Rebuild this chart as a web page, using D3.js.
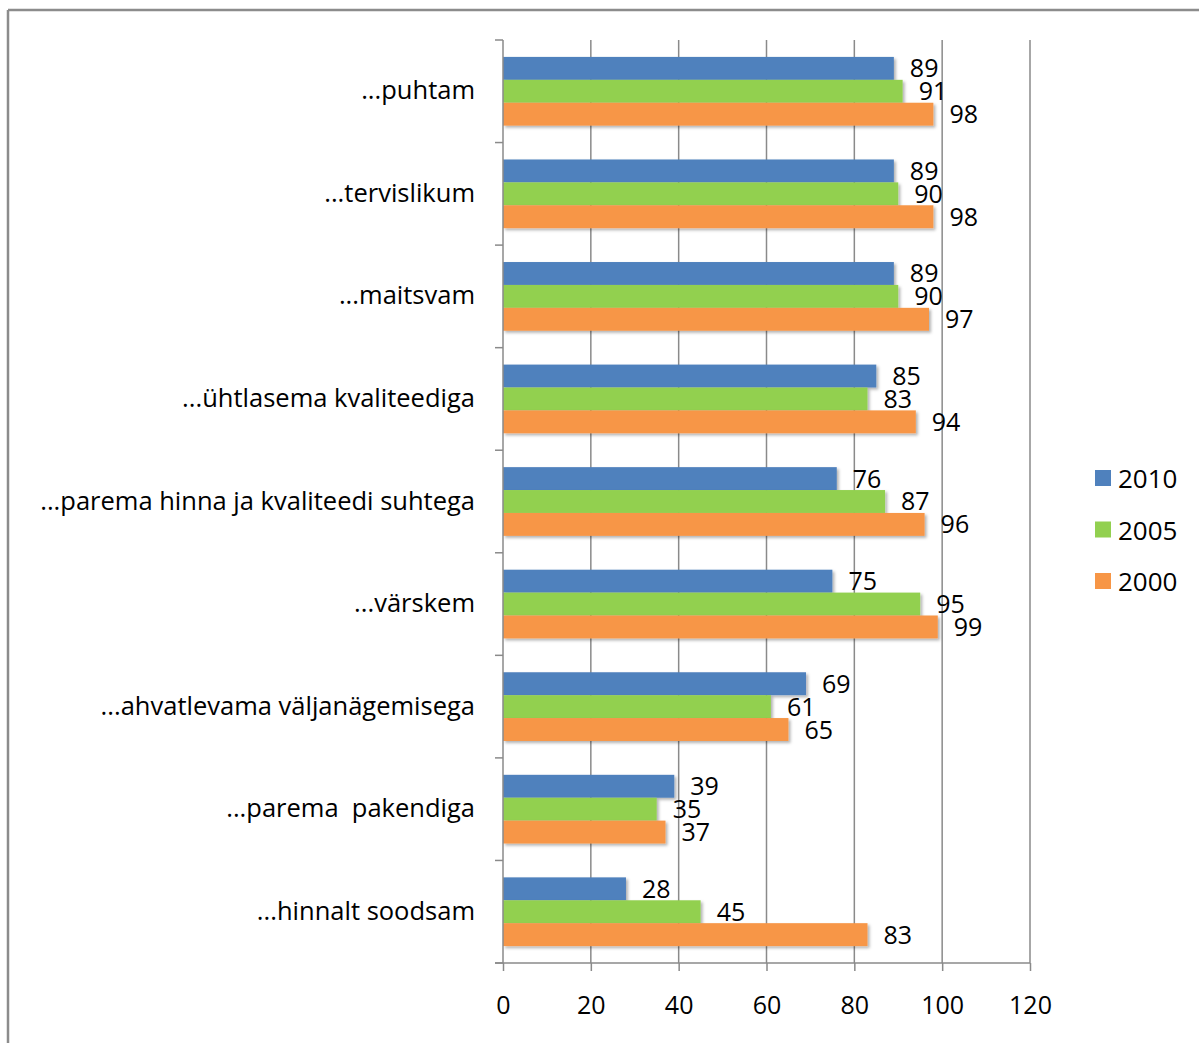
<!DOCTYPE html>
<html>
<head>
<meta charset="utf-8">
<script src="https://cdn.jsdelivr.net/npm/d3@7"></script>
<style>
  body { margin: 0; background: #fff; }
  svg text { font-family: "Open Sans", Lato, sans-serif; fill: #000; }
</style>
</head>
<body>
<svg id="chart" width="1199" height="1043"></svg>
<script>
const categories = ["...puhtam", "...tervislikum", "...maitsvam", "...ühtlasema kvaliteediga",
  "...parema hinna ja kvaliteedi suhtega", "...värskem", "...ahvatlevama väljanägemisega",
  "...parema  pakendiga", "...hinnalt soodsam"];
const series = ["2010", "2005", "2000"];
const values2010 = [89, 89, 89, 85, 76, 75, 69, 39, 28];
const values2005 = [91, 90, 90, 83, 87, 95, 61, 35, 45];
const values2000 = [98, 98, 97, 94, 96, 99, 65, 37, 83];
const xTicks = [0, 20, 40, 60, 80, 100, 120];
const colors = ["#4f81bd", "#92d050", "#f79646"];

const allValues = [values2010, values2005, values2000];

const svg = d3.select("#chart");

// frame of the chart area (only top and left visible)
svg.append("line").attr("x1", 8).attr("x2", 1199).attr("y1", 10).attr("y2", 10)
  .attr("stroke", "#8c8c8c").attr("stroke-width", 2.5);
svg.append("line").attr("x1", 8).attr("x2", 8).attr("y1", 10).attr("y2", 1043)
  .attr("stroke", "#8c8c8c").attr("stroke-width", 2.5);

const defs = svg.append("defs");
const f = defs.append("filter").attr("id", "shadow").attr("x", "-5%").attr("y", "-20%")
  .attr("width", "115%").attr("height", "160%");
f.append("feDropShadow").attr("dx", 2).attr("dy", 2).attr("stdDeviation", 1.5)
  .attr("flood-color", "#000").attr("flood-opacity", 0.3);

const x = d3.scaleLinear().domain([0, 120]).range([503, 1030]);
const y0 = d3.scaleBand().domain(categories).range([40, 963]);
const bw = y0.bandwidth();
const y1 = d3.scaleBand().domain(series).range([bw * 0.165, bw * 0.835]);

// vertical gridlines
svg.append("g").selectAll("line").data(xTicks.slice(1)).join("line")
  .attr("x1", d => x(d)).attr("x2", d => x(d))
  .attr("y1", 40).attr("y2", 963)
  .attr("stroke", "#8a8a8a").attr("stroke-width", 1.5);

// bars
const groups = svg.append("g").selectAll("g").data(categories).join("g")
  .attr("transform", d => `translate(0,${y0(d)})`);

series.forEach((s, si) => {
  groups.append("rect")
    .attr("x", x(0))
    .attr("y", y1(s))
    .attr("width", (d, i) => x(allValues[si][i]) - x(0))
    .attr("height", y1.bandwidth())
    .attr("fill", colors[si])
    .attr("filter", "url(#shadow)");
});

series.forEach((s, si) => {
  groups.append("text")
    .attr("x", (d, i) => x(allValues[si][i]) + 16)
    .attr("y", y1(s) + y1.bandwidth() / 2 - 1)
    .attr("dominant-baseline", "central")
    .attr("font-size", 25)
    .text((d, i) => allValues[si][i]);
});

// y axis
svg.append("line").attr("x1", x(0)).attr("x2", x(0)).attr("y1", 40).attr("y2", 963)
  .attr("stroke", "#8a8a8a").attr("stroke-width", 1.5);
const boundaries = categories.map(c => y0(c)).concat([963]);
svg.append("g").selectAll("line").data(boundaries).join("line")
  .attr("x1", x(0) - 8).attr("x2", x(0))
  .attr("y1", d => d).attr("y2", d => d)
  .attr("stroke", "#8a8a8a").attr("stroke-width", 1.5);
svg.append("g").selectAll("text").data(categories).join("text")
  .attr("x", 475)
  .attr("y", d => y0(d) + bw / 2 - 2)
  .attr("text-anchor", "end")
  .attr("dominant-baseline", "central")
  .attr("font-size", 25.5)
  .style("white-space", "pre")
  .text(d => d);

// x axis
const xAxis = svg.append("g").attr("transform", "translate(0,963)")
  .call(d3.axisBottom(x).tickValues(xTicks).tickSize(8).tickPadding(25));
xAxis.select(".domain").attr("stroke", "#8a8a8a").attr("stroke-width", 1.5)
  .attr("d", `M${x(0) - 8},0H${x(120)}`);
xAxis.selectAll(".tick line").attr("stroke", "#8a8a8a").attr("stroke-width", 1.5);
xAxis.selectAll(".tick text").attr("font-size", 25)
  .attr("font-family", "'Open Sans', Lato, sans-serif").attr("fill", "#000");

// legend
const legend = svg.append("g").selectAll("g").data(series).join("g")
  .attr("transform", (d, i) => `translate(1095,${478 + i * 51.5})`);
legend.append("rect").attr("x", 0).attr("y", -8).attr("width", 16).attr("height", 16)
  .attr("fill", (d, i) => colors[i]);
legend.append("text").attr("x", 23).attr("y", 0)
  .attr("dominant-baseline", "central").attr("font-size", 26)
  .text(d => d);
</script>
</body>
</html>
